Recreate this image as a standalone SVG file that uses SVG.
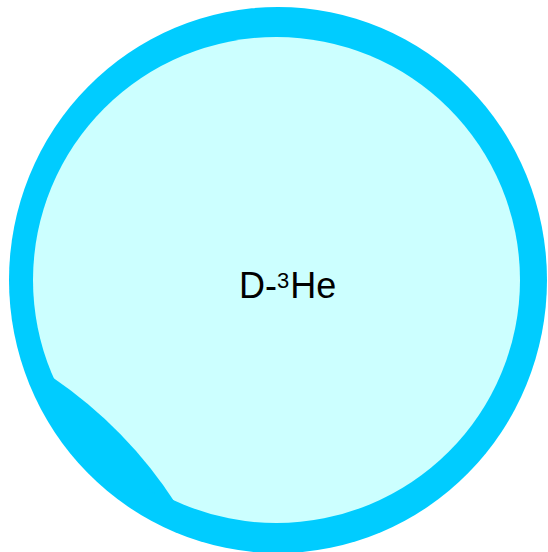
<svg xmlns="http://www.w3.org/2000/svg" width="548" height="552" viewBox="0 0 548 552">
<style>
.ring{fill:#00CCFF}
.core{fill:#CCFFFF}
.lbl{font-family:"Liberation Sans",Arial,sans-serif;font-size:36px;fill:#000}
</style>
<g id="plasma">
<ellipse class="ring" cx="278" cy="280" rx="269" ry="273"/>
<ellipse class="core" cx="276.5" cy="280" rx="243.5" ry="243"/>
<path class="ring" d="M52,377 Q127,428 176,504 A243.5,243 0 0 1 52,377 Z"/>
<text class="lbl" x="239" y="298">D-<tspan font-size="22" dy="-10">3</tspan><tspan dy="10" dx="1">He</tspan></text>
</g>
</svg>
